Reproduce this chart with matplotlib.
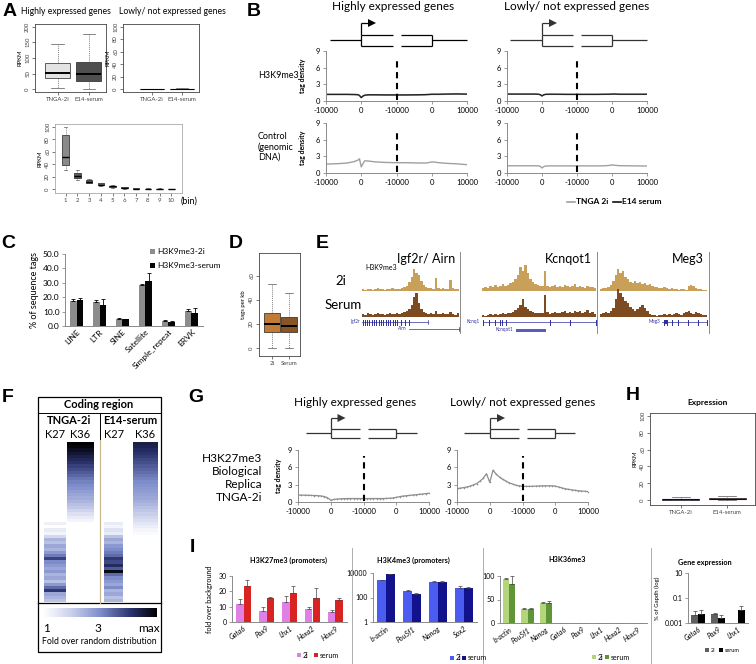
import matplotlib
matplotlib.use('Agg')
import matplotlib.pyplot as plt
from matplotlib.colors import LinearSegmentedColormap
from matplotlib.colorbar import ColorbarBase
from matplotlib.patches import Rectangle, Polygon

plt.rcParams['font.family'] = ['Lato', 'DejaVu Sans']

# ---------------- data ----------------
# A: RPKM box plots (whislo, q1, med, q3, whishi)
a1_labels = ['TNGA-2i', 'E14-serum']
a1_stats = [(6, 36, 52, 83, 145), (0, 27, 49, 86, 176)]
a2_stats = [(0, 0.3, 0.6, 1.0, 1.5), (0, 0.3, 0.6, 1.1, 1.8)]
a3_bins = [1, 2, 3, 4, 5, 6, 7, 8, 9, 10]
a3_stats = [(31, 39, 52, 87, 100), (14, 18, 21, 25, 30), (9, 10, 12, 14.5, 16.5),
            (5, 6, 7, 9, 10), (2, 2.7, 4, 5.3, 6), (0.5, 1, 1.8, 2.7, 3.2),
            (0, 0.3, 0.6, 0.9, 1.2), (0, 0.2, 0.4, 0.6, 0.9), (0, 0.2, 0.4, 0.6, 0.8),
            (0, 0.2, 0.3, 0.5, 0.7)]

# B: tag density profiles (position along metagene, 0..40000)
b_x = [0, 2000, 4000, 6000, 8000, 9000, 9500, 10000, 10500, 11000, 12000, 14000,
       17000, 20000, 23000, 26000, 28000, 29000, 30000, 31000, 32000, 34000, 37000, 40000]
b_hi_k9_2i = [1.15, 1.15, 1.15, 1.15, 1.12, 1.10, 0.95, 0.65, 0.88, 1.00, 1.08, 1.08,
              1.05, 1.05, 1.05, 1.08, 1.10, 1.12, 1.18, 1.18, 1.18, 1.20, 1.22, 1.20]
b_hi_k9_ser = [1.20, 1.20, 1.20, 1.20, 1.18, 1.15, 1.00, 0.60, 0.90, 1.05, 1.12, 1.12,
               1.10, 1.10, 1.10, 1.12, 1.15, 1.18, 1.22, 1.22, 1.22, 1.25, 1.28, 1.25]
b_lo_k9_2i = [1.22, 1.22, 1.22, 1.22, 1.22, 1.19, 1.12, 0.92, 1.10, 1.17, 1.19, 1.19,
              1.17, 1.17, 1.17, 1.17, 1.19, 1.19, 1.22, 1.22, 1.19, 1.19, 1.19, 1.19]
b_lo_k9_ser = [1.25, 1.25, 1.25, 1.25, 1.25, 1.22, 1.15, 0.90, 1.12, 1.20, 1.22, 1.22,
               1.20, 1.20, 1.20, 1.20, 1.22, 1.22, 1.25, 1.25, 1.22, 1.22, 1.22, 1.22]
b_hi_ctrl_2i = [1.60, 1.65, 1.70, 1.80, 2.05, 2.30, 2.55, 1.10, 1.70, 2.20, 2.15, 2.00,
                1.90, 1.85, 1.85, 1.80, 1.80, 1.85, 2.00, 1.95, 1.85, 1.75, 1.65, 1.50]
b_lo_ctrl_2i = [1.30, 1.30, 1.30, 1.30, 1.30, 1.28, 1.20, 0.90, 1.15, 1.25, 1.28, 1.28,
                1.28, 1.28, 1.28, 1.28, 1.30, 1.35, 1.45, 1.38, 1.32, 1.30, 1.28, 1.25]
prof_ticks = [0, 10000, 20000, 30000, 40000]
prof_ticklabels = ['-10000', '0', '-10000', '0', '10000']

# C: repeat classes
c_cats = ['LINE', 'LTR', 'SINE', 'Satellite', 'Simple_repeat', 'ERVK']
c_2i = [17.5, 16.5, 5.2, 28.5, 3.2, 10.5]
c_2i_err = [1.0, 1.3, 0.4, 1.0, 1.2, 1.5]
c_ser = [17.8, 14.8, 4.9, 31.0, 2.8, 9.2]
c_ser_err = [1.5, 4.0, 0.3, 5.5, 0.8, 3.0]

# D: tags per kb
d_labels = ['2i', 'Serum']
d_stats = [(0, 13, 20, 29, 53), (0, 13, 18.5, 26, 46)]

# E: genome browser tracks (H3K9me3)
e_igf_2i = [2, 1, 2, 2, 1, 2, 3, 2, 2, 1, 2, 2, 3, 2, 2, 2, 3, 4, 5, 9,
            14, 22, 18, 16, 10, 6, 4, 3, 3, 2, 13, 3, 2, 3, 2, 2, 11, 3, 2, 2]
e_igf_ser = [3, 2, 4, 3, 2, 3, 4, 3, 3, 2, 3, 4, 3, 3, 4, 3, 4, 5, 6, 8,
             12, 20, 24, 14, 8, 5, 4, 3, 4, 3, 6, 3, 3, 4, 3, 3, 5, 3, 2, 4]
e_kcn_2i = [3, 4, 3, 5, 4, 6, 4, 5, 7, 5, 6, 8, 9, 12, 16, 24, 20, 26, 18, 12, 9, 7, 6,
            5, 5, 20, 5, 4, 5, 6, 4, 5, 4, 6, 5, 4, 5, 7, 4, 5, 4, 3, 5, 4, 4, 3]
e_kcn_ser = [2, 1, 2, 3, 2, 3, 2, 3, 4, 3, 4, 4, 5, 7, 9, 12, 18, 10, 8, 6, 5, 4, 4,
             4, 4, 22, 5, 3, 4, 5, 4, 4, 5, 6, 4, 5, 4, 6, 5, 6, 4, 5, 7, 4, 5, 3]
e_meg_2i = [2, 3, 3, 4, 6, 10, 16, 22, 18, 20, 14, 12, 9, 8, 10, 8, 9, 7, 8, 6, 7, 5,
            4, 4, 3, 3, 4, 3, 2, 3, 2, 2, 1, 2, 2, 1, 5, 6, 5, 3, 2, 2, 1, 1]
e_meg_ser = [3, 4, 5, 4, 6, 9, 18, 28, 24, 20, 16, 14, 10, 8, 6, 8, 10, 12, 9, 6, 3, 2,
             2, 1, 2, 2, 3, 2, 3, 2, 3, 4, 3, 2, 4, 5, 6, 4, 3, 5, 4, 3, 2, 2]
e_titles = ['Igf2r/ Airn', 'Kcnqot1', 'Meg3']

# F: heatmap (0 = fold 1, 1 = max), rows top->bottom
f_tnga_k27 = [0.0] * 25 + [0.08, 0.0, 0.1, 0.05, 0.2, 0.35, 0.3, 0.4, 0.35, 0.45, 0.55, 0.72,
                           0.5, 0.45, 0.4, 0.45, 0.35, 0.4, 0.3, 0.45, 0.6, 0.75, 0.4, 0.35, 0.3]
f_tnga_k36 = [1.00, 0.97, 0.93, 0.89, 0.85, 0.81, 0.77, 0.73, 0.69, 0.65, 0.61, 0.57, 0.53,
              0.50, 0.47, 0.44, 0.41, 0.38, 0.35, 0.31, 0.27, 0.22, 0.16, 0.10, 0.05] + [0.0] * 25
f_e14_k27 = [0.0] * 25 + [0.1, 0.05, 0.15, 0.1, 0.3, 0.4, 0.35, 0.45, 0.5, 0.55, 0.6, 0.75,
                          0.7, 0.8, 0.65, 0.95, 0.6, 0.5, 0.45, 0.4, 0.5, 0.35, 0.4, 0.3, 0.35]
f_e14_k36 = [0.85, 0.83, 0.80, 0.77, 0.74, 0.71, 0.68, 0.65, 0.62, 0.59, 0.56, 0.53, 0.50,
             0.48, 0.46, 0.44, 0.42, 0.40, 0.37, 0.34, 0.31, 0.28, 0.25, 0.21, 0.17, 0.13,
             0.09, 0.05, 0.02] + [0.0] * 21

# G: H3K27me3 replica profiles (0..40000, step 1000)
g_x = list(range(0, 40001, 1000))
g_hi = [1.20, 1.20, 1.18, 1.16, 1.14, 1.12, 1.10, 1.05, 0.95, 0.75, 0.30, 0.45, 0.52, 0.55,
        0.58, 0.60, 0.60, 0.60, 0.60, 0.60, 0.60, 0.60, 0.60, 0.60, 0.60, 0.60, 0.60, 0.62,
        0.65, 0.70, 0.80, 0.92, 1.02, 1.08, 1.14, 1.20, 1.26, 1.32, 1.38, 1.45, 1.52]
g_lo = [2.30, 2.40, 2.50, 2.60, 2.75, 2.95, 3.20, 3.60, 4.10, 4.90, 3.40, 5.50, 4.80, 4.30,
        3.90, 3.60, 3.30, 3.10, 2.90, 2.80, 2.70, 2.70, 2.70, 2.72, 2.75, 2.78, 2.80, 2.80,
        2.82, 2.80, 2.75, 2.60, 2.45, 2.30, 2.20, 2.10, 2.02, 1.95, 1.90, 1.85, 1.80]

# H: expression
h_labels = ['TNGA-2i', 'E14-serum']
h_stats = [(0, 0.4, 0.9, 1.6, 3.0), (0, 0.6, 1.3, 2.4, 4.5)]

# I: ChIP-qPCR and expression
i1_cats = ['Gata6', 'Pax9', 'Lhx1', 'Hoxa2', 'Hoxc9']
i1_2i = [12.0, 7.5, 12.8, 8.8, 6.5]
i1_2i_err = [3.0, 2.5, 4.0, 0.8, 1.5]
i1_ser = [23.5, 15.8, 19.0, 15.5, 14.5]
i1_ser_err = [4.0, 0.5, 4.5, 6.5, 1.0]
i2_cats = ['b-actin', 'Pou5f1', 'Nanog', 'Sox2']
i2_2i = [2500, 320, 1800, 550]
i2_2i_err = [400, 80, 500, 350]
i2_ser = [8000, 200, 1900, 600]
i2_ser_err = [400, 50, 250, 60]
i3_cats = ['b-actin', 'Pou5f1', 'Nanog', 'Gata6', 'Pax9', 'Lhx1', 'Hoxa2', 'Hoxc9']
i3_2i = [93, 29, 42, 0.6, 0.4, 0.7, 0.5, 0.4]
i3_2i_err = [3, 2, 2, 0, 0, 0, 0, 0]
i3_ser = [83, 29, 43, 0.5, 0.4, 0.5, 0.6, 0.5]
i3_ser_err = [17, 3, 4, 0, 0, 0, 0, 0]
i4_cats = ['Gata6', 'Pax9', 'Lhx1']
i4_2i = [0.0045, 0.0048, float('nan')]
i4_2i_err = [0.004, 0.002, 0.0]
i4_ser = [0.0048, 0.0023, 0.011]
i4_ser_err = [0.006, 0.002, 0.012]

# ---------------- helpers ----------------
W, H = 756, 664
fig = plt.figure(figsize=(W / 100, H / 100), dpi=100)


def add_ax(x0, y0, x1, y1):
    return fig.add_axes([x0 / W, 1 - y1 / H, (x1 - x0) / W, (y1 - y0) / H])


def txt(x, y, s, **kw):
    kw.setdefault('ha', 'left')
    kw.setdefault('va', 'center')
    fig.text(x / W, 1 - y / H, s, **kw)


def letter(x, y, s):
    txt(x, y, s, ha='center', fontsize=14, fontweight='bold',
        family=['Liberation Sans', 'DejaVu Sans'])


def style_r(ax, fs=4.3):
    for s in ax.spines.values():
        s.set_linewidth(0.6)
        s.set_color('#444444')
    ax.tick_params(labelsize=fs, length=2, width=0.5, pad=1.5, colors='#444444')
    ax.tick_params(axis='y', labelrotation=90)
    for lab in ax.get_yticklabels():
        lab.set_va('center')


def style_xl(ax, fs=5.5):
    ax.spines['top'].set_visible(False)
    ax.spines['right'].set_visible(False)
    for s in ('left', 'bottom'):
        ax.spines[s].set_color('#8a8a8a')
        ax.spines[s].set_linewidth(0.7)
    ax.tick_params(labelsize=fs, length=2.5, width=0.6, color='#8a8a8a', pad=1.5)


def rbox(ax, stats, pos, colors, width=0.8, medc='k', medlw=1.4):
    bxs = [dict(whislo=s[0], q1=s[1], med=s[2], q3=s[3], whishi=s[4], fliers=[]) for s in stats]
    b = ax.bxp(bxs, positions=pos, widths=width, patch_artist=True, showfliers=False,
               boxprops=dict(linewidth=0.5, edgecolor='#222222'),
               medianprops=dict(color=medc, linewidth=medlw),
               whiskerprops=dict(linestyle=(0, (1.5, 1.5)), linewidth=0.5, color='#555555'),
               capprops=dict(linewidth=0.5, color='#555555'))
    for p, c in zip(b['boxes'], colors):
        p.set_facecolor(c)


# ---------------- A ----------------
letter(10, 12, 'A')
txt(21, 11, 'Highly expressed genes', fontsize=6.2)
txt(119, 11, 'Lowly/ not expressed genes', fontsize=6.2)

ax = add_ax(35, 24, 106, 92)
rbox(ax, a1_stats, [1, 2], ['#e3e3e3', '#4f4f4f'])
ax.set_xlim(0.28, 2.55)
ax.set_ylim(-8, 208)
ax.set_yticks([0, 50, 100, 150, 200])
ax.set_xticks([1, 2], a1_labels)
ax.set_ylabel('RPKM', fontsize=4.3, labelpad=2)
style_r(ax)

ax = add_ax(123, 24, 199, 92)
rbox(ax, a2_stats, [1, 2], ['#e3e3e3', '#4f4f4f'], medlw=0.8)
ax.set_xlim(0.05, 2.55)
ax.set_ylim(-4, 104)
ax.set_yticks([0, 20, 40, 60, 80, 100])
ax.set_xticks([1, 2], ['TNGA-2i', 'E14-serum'])
ax.set_ylabel('RPKM', fontsize=4.3, labelpad=2)
style_r(ax)

ax = add_ax(55, 124, 182, 193)
rbox(ax, a3_stats, a3_bins, ['#8a8a8a'] + ['#5c5c5c'] * 9, width=0.55, medlw=1.0)
ax.set_xlim(0.1, 10.9)
ax.set_ylim(-6.5, 104.8)
ax.set_yticks([0, 20, 40, 60, 80, 100])
ax.set_xticks(a3_bins, [str(b) for b in a3_bins])
ax.set_ylabel('RPKM', fontsize=4.3, labelpad=2)
style_r(ax)
for s in ax.spines.values():
    s.set_color('#aaaaaa')
txt(181, 201, '(bin)', fontsize=6.5)

# ---------------- B ----------------
letter(254, 11, 'B')
txt(393, 7, 'Highly expressed genes', fontsize=8.5, ha='center')
txt(577, 7, 'Lowly/ not expressed genes', fontsize=8.5, ha='center')


def profile_ax(box, lines, markers=False):
    ax = add_ax(*box)
    for xs, ys, c in lines:
        if markers:
            ax.plot(xs, ys, color=c, lw=0.9, marker='+', ms=2, mew=0.4)
        else:
            ax.plot(xs, ys, color=c, lw=1.0)
    ax.set_xlim(0, 40000)
    ax.set_ylim(0, 9)
    ax.set_xticks(prof_ticks, prof_ticklabels)
    ax.set_yticks([0, 3, 6, 9])
    ax.axvline(20000, ymin=0.02, ymax=0.88, color='k', lw=1.5, ls=(0, (3, 2.2)))
    style_xl(ax)
    return ax


profile_ax((326, 51, 467, 101), [(b_x, b_hi_k9_2i, '#a0a0a0'), (b_x, b_hi_k9_ser, '#222222')])
profile_ax((507, 51, 647, 101), [(b_x, b_lo_k9_2i, '#a0a0a0'), (b_x, b_lo_k9_ser, '#222222')])
profile_ax((326, 123, 467, 173), [(b_x, b_hi_ctrl_2i, '#a0a0a0')])
profile_ax((507, 123, 647, 173), [(b_x, b_lo_ctrl_2i, '#a0a0a0')])
txt(258, 76, 'H3K9me3', fontsize=6.5)
txt(258, 147, 'Control\n(genomic\nDNA)', fontsize=6.5, linespacing=1.15)
txt(302, 76, 'tag density', fontsize=5, fontweight='bold', rotation=90, ha='center')
txt(302, 148, 'tag density', fontsize=5, fontweight='bold', rotation=90, ha='center')

# ---------------- C ----------------
letter(8, 243, 'C')
ax = add_ax(65, 254, 203, 326)
xs = range(len(c_cats))
ax.bar([x - 0.14 for x in xs], c_2i, 0.28, color='#8c8c8c',
       yerr=[[0] * len(c_2i), c_2i_err], error_kw=dict(lw=0.6, capsize=1.5, capthick=0.6))
ax.bar([x + 0.14 for x in xs], c_ser, 0.28, color='#050505',
       yerr=[[0] * len(c_ser), c_ser_err], error_kw=dict(lw=0.6, capsize=1.5, capthick=0.6))
ax.set_xlim(-0.5, 5.5)
ax.set_ylim(0, 50)
ax.set_yticks([0, 10, 20, 30, 40, 50], ['%.1f' % v for v in [0, 10, 20, 30, 40, 50]])
ax.set_xticks(list(xs), c_cats, rotation=45, ha='right', rotation_mode='anchor')
style_xl(ax, fs=6)
ax.tick_params(axis='x', length=0)
ax.set_ylabel('% of sequence tags', fontsize=6.5, labelpad=3)

# ---------------- D ----------------
letter(236, 243, 'D')
ax = add_ax(259, 253, 300, 356)
rbox(ax, d_stats, [1, 2], ['#c27b34', '#8a5526'], width=0.9)
ax.set_xlim(0.25, 2.65)
ax.set_ylim(-6.7, 79)
ax.set_yticks([0, 20, 40, 60])
ax.set_xticks([1, 2], d_labels)
ax.set_ylabel('tags per kb', fontsize=4.3, labelpad=2)
style_r(ax)

# ---------------- E ----------------
letter(322, 243, 'E')
regions = [(362, 459, e_igf_2i, e_igf_ser), (482, 596, e_kcn_2i, e_kcn_ser),
           (600, 707, e_meg_2i, e_meg_ser)]
for (x0, x1, v2i, vser) in regions:
    for (y0, y1, vals, col) in [(261, 291, v2i, '#c9a05a'), (287, 317, vser, '#7d4b1f')]:
        ax = add_ax(x0, y0, x1, y1)
        ax.bar(range(len(vals)), vals, width=1.0, color=col, align='edge')
        ax.set_xlim(0, len(vals))
        ax.set_ylim(0, 30)
        ax.axis('off')
for (xr, t) in zip([455, 592, 704], e_titles):
    txt(xr, 259, t, fontsize=9, ha='right')
txt(341, 281, '2i', fontsize=9.5, ha='center')
txt(343, 305, 'Serum', fontsize=9.5, ha='center')
txt(365, 268, 'H3K9me3', fontsize=5)

# ---------------- F ----------------
letter(8, 397, 'F')
fcmap = LinearSegmentedColormap.from_list(
    'fold', [(0, '#ffffff'), (0.25, '#c9cfea'), (0.5, '#7e8dcb'), (0.78, '#28306a'), (1, '#000000')])
for (x0, x1, vals) in [(44, 66, f_tnga_k27), (67, 94, f_tnga_k36),
                       (104, 123, f_e14_k27), (133, 158, f_e14_k36)]:
    ax = add_ax(x0, 442, x1, 602)
    ax.imshow([[v] for v in vals], aspect='auto', cmap=fcmap, vmin=0, vmax=1,
              interpolation='nearest')
    ax.axis('off')
cax = add_ax(43, 608, 157, 617)
cb = ColorbarBase(cax, cmap=fcmap, orientation='horizontal')
cb.set_ticks([])
cb.outline.set_visible(False)
txt(99, 405, 'Coding region', fontsize=8, fontweight='bold', ha='center')
txt(69, 421, 'TNGA-2i', fontsize=8, fontweight='bold', ha='center')
txt(130, 421, 'E14-serum', fontsize=8, fontweight='bold', ha='center')
for (x, t) in [(55, 'K27'), (80, 'K36'), (114, 'K27'), (145, 'K36')]:
    txt(x, 434, t, fontsize=8, ha='center')
txt(47, 628, '1', fontsize=8.5, ha='center')
txt(98, 628, '3', fontsize=8.5, ha='center')
txt(160, 628, 'max', fontsize=8.5, ha='right')
txt(99, 642, 'Fold over random distribution', fontsize=6.3, ha='center')

# ---------------- G ----------------
letter(196, 397, 'G')
txt(355, 403, 'Highly expressed genes', fontsize=8.5, ha='center')
txt(523, 403, 'Lowly/ not expressed genes', fontsize=8.5, ha='center')
profile_ax((298, 450, 429, 502), [(g_x, g_hi, '#8f8f8f')], markers=True)
profile_ax((457, 450, 588, 502), [(g_x, g_lo, '#8f8f8f')], markers=True)
txt(262, 478, 'H3K27me3\nBiological\nReplica\nTNGA-2i', fontsize=8.5, ha='right',
    ma='right', linespacing=1.25)
txt(279, 476, 'tag density', fontsize=5, fontweight='bold', rotation=90, ha='center')

# ---------------- H ----------------
letter(633, 395, 'H')
ax = add_ax(650, 413, 755, 505)
rbox(ax, h_stats, [1, 2], ['#1c1c8c', '#a33a28'], medc='#0a0a40', medlw=0.8)
ax.set_xlim(0.33, 2.6)
ax.set_ylim(-6, 103.6)
ax.set_yticks([0, 20, 40, 60, 80, 100])
ax.set_xticks([1, 2], h_labels)
ax.set_ylabel('RPKM', fontsize=4.3, labelpad=2)
style_r(ax)
txt(708, 403, 'Expression', fontsize=6, fontweight='bold', ha='center')

# ---------------- I ----------------
letter(192, 547, 'I')
ekw = dict(lw=0.5, capsize=1.2, capthick=0.5, ecolor='#444444')


def qpcr_ax(box, cats, v2i, e2i, vser, eser, c2i, cser, log=False, bottom=0, w=0.34):
    ax = add_ax(*box)
    xs = list(range(len(cats)))
    if log:
        ax.set_yscale('log')
    ax.bar([x - w / 2 for x in xs], [v - bottom for v in v2i], w, bottom=bottom, color=c2i,
           yerr=[[0] * len(v2i), e2i], error_kw=ekw)
    ax.bar([x + w / 2 for x in xs], [v - bottom for v in vser], w, bottom=bottom, color=cser,
           yerr=[[0] * len(vser), eser], error_kw=ekw)
    ax.set_xlim(-0.5, len(cats) - 0.5)
    ax.set_xticks(xs, cats, rotation=35, ha='right', rotation_mode='anchor', style='italic')
    style_xl(ax, fs=5)
    ax.tick_params(axis='x', length=0, pad=2)
    ax.minorticks_off()
    return ax


ax = qpcr_ax((232, 576, 347, 622), i1_cats, i1_2i, i1_2i_err, i1_ser, i1_ser_err,
             '#e07fe6', '#d92323')
ax.set_ylim(0, 30)
ax.set_yticks([0, 10, 20, 30])
ax.set_ylabel('fold over background', fontsize=5.2, labelpad=4)
txt(289, 560, 'H3K27me3 (promoters)', fontsize=5.2, fontweight='bold', ha='center')

ax = qpcr_ax((373, 573, 477, 622), i2_cats, i2_2i, i2_2i_err, i2_ser, i2_ser_err,
             '#4a5df0', '#12128c', log=True, bottom=1)
ax.set_ylim(1, 10000)
ax.set_yticks([1, 100, 10000], ['1', '100', '10000'])
ax.minorticks_off()
txt(413, 560, 'H3K4me3 (promoters)', fontsize=5.2, fontweight='bold', ha='center')

ax = qpcr_ax((500, 576, 647, 623), i3_cats, i3_2i, i3_2i_err, i3_ser, i3_ser_err,
             '#b3d67b', '#5f9539')
ax.set_ylim(0, 100)
ax.set_yticks([0, 50, 100])
txt(567, 560, 'H3K36me3', fontsize=5.2, fontweight='bold', ha='center')

ax = qpcr_ax((688, 573, 748, 623), i4_cats, i4_2i, i4_2i_err, i4_ser, i4_ser_err,
             '#606060', '#000000', log=True, bottom=0.001)
ax.set_ylim(0.001, 10)
ax.set_yticks([0.001, 0.1, 10], ['0.001', '0.1', '10'])
ax.minorticks_off()
ax.set_ylabel('% of Gapdh (log)', fontsize=4.3, labelpad=3)
txt(705, 562, 'Gene expression', fontsize=5.2, fontweight='bold', ha='center')

# ---------------- overlay drawings ----------------
ov = fig.add_axes([0, 0, 1, 1])
ov.set_xlim(0, W)
ov.set_ylim(H, 0)
ov.axis('off')


def gene(x0, x1, tss, tes, gap, y, hh, atop, col='k'):
    kw = dict(color=col, lw=0.9, solid_capstyle='butt')
    ov.plot([x0, tss], [y, y], **kw)
    ov.plot([tes, x1], [y, y], **kw)
    for yy in (y - hh, y + hh):
        ov.plot([tss, gap - 4], [yy, yy], **kw)
        ov.plot([gap + 4, tes], [yy, yy], **kw)
    ov.plot([tss, tss], [y - hh, y + hh], **kw)
    ov.plot([tes, tes], [y - hh, y + hh], **kw)
    ov.plot([tss, tss], [y - hh, atop], **kw)
    ov.plot([tss, tss + 7], [atop, atop], **kw)
    ov.add_patch(Polygon([(tss + 7, atop - 4), (tss + 15, atop), (tss + 7, atop + 4)],
                         closed=True, color=col, lw=0))


gene(330, 467, 361, 432, 396.5, 40, 5.5, 23)
gene(510, 647, 542, 612, 577, 40, 5.5, 23, col='#333333')
gene(306, 417, 330.5, 396, 363.5, 433, 4.5, 418, col='#333333')
gene(464, 575, 490, 555, 522.5, 433, 4.5, 418, col='#333333')

# B legend
ov.plot([567, 575], [202, 202], color='#a0a0a0', lw=1.2)
ov.text(576, 202, 'TNGA 2i', fontsize=6, va='center', fontweight='bold')
ov.plot([613, 621], [202, 202], color='#111111', lw=1.2)
ov.text(622, 202, 'E14 serum', fontsize=6, va='center', fontweight='bold')

# C legend
for (y, col, lab) in [(251, '#8c8c8c', 'H3K9me3-2i'), (265, '#050505', 'H3K9me3-serum')]:
    ov.add_patch(Rectangle((150, y - 2.5), 5, 5, color=col, lw=0))
    ov.text(157, y, lab, fontsize=6, va='center')

# E separators and annotation
for x in (460, 597, 709):
    ov.plot([x, x], [252, 333], color='#777777', lw=0.6)
blue = '#2f2f9c'
ov.plot([362, 428], [322, 322], color=blue, lw=0.5)
for x in [363, 365, 367, 369, 372, 374, 376, 379, 381, 383, 386, 388, 390, 393, 395, 397,
          401, 405, 409]:
    ov.plot([x, x], [319.5, 324.5], color=blue, lw=0.7)
ov.plot([428, 428], [320, 324], color=blue, lw=0.5)
ov.plot([409, 459], [329, 329], color=blue, lw=0.5)
ov.plot([459, 459], [327, 331], color=blue, lw=0.5)
ov.text(360, 322, 'Igf2r', fontsize=3.3, color=blue, ha='right', va='center')
ov.text(407, 329, 'Airn', fontsize=3.3, color=blue, ha='right', va='center')
ov.plot([483, 596], [322, 322], color=blue, lw=0.5)
for x in [483, 489, 495, 500, 502, 506, 550, 570, 596]:
    ov.plot([x, x], [319.5, 324.5], color=blue, lw=0.7)
ov.text(480, 322, 'Kcnq1', fontsize=3.3, color=blue, ha='right', va='center')
ov.add_patch(Rectangle((516, 328.5), 30, 3, color='#5a5ac0', lw=0))
ov.text(513, 330, 'Kcnqot1', fontsize=3.3, color=blue, ha='right', va='center')
ov.plot([662, 707], [322, 322], color=blue, lw=0.5)
for x in [664, 667, 672, 678, 688, 698, 707]:
    ov.plot([x, x], [319.5, 324.5], color=blue, lw=0.7)
ov.add_patch(Rectangle((664, 320), 3, 4, color=blue, lw=0))
ov.text(660, 322, 'Meg3', fontsize=3.3, color=blue, ha='right', va='center')

# F frame
ov.add_patch(Rectangle((38, 397), 123, 255, fill=False, ec='k', lw=0.9))
ov.plot([38, 161], [413, 413], color='k', lw=0.7)
ov.plot([38, 161], [603, 603], color='k', lw=0.9)
ov.plot([100, 100], [413, 440], color='k', lw=0.7)
ov.plot([100, 100], [440, 603], color='#c8b890', lw=0.9)

# I separators and legends
for x in (352, 483, 651):
    ov.plot([x, x], [548, 664], color='#a0a0a0', lw=0.6)


def sq_legend(x, y, items, fs=5):
    for (dx, col, lab) in items:
        ov.add_patch(Rectangle((x + dx, y - 2.2), 4.4, 4.4, color=col, lw=0))
        ov.text(x + dx + 6, y, lab, fontsize=fs, va='center')


sq_legend(297, 655, [(0, '#e07fe6', '2i'), (17, '#d92323', 'serum')])
sq_legend(450, 658, [(0, '#4a5df0', '2i'), (12, '#12128c', 'serum')])
sq_legend(592, 657, [(0, '#b3d67b', '2i'), (13, '#5f9539', 'serum')])
sq_legend(705, 650, [(0, '#606060', '2i'), (14, '#000000', 'serum')], fs=4)

fig.savefig('out.png', dpi=100, facecolor='white')
